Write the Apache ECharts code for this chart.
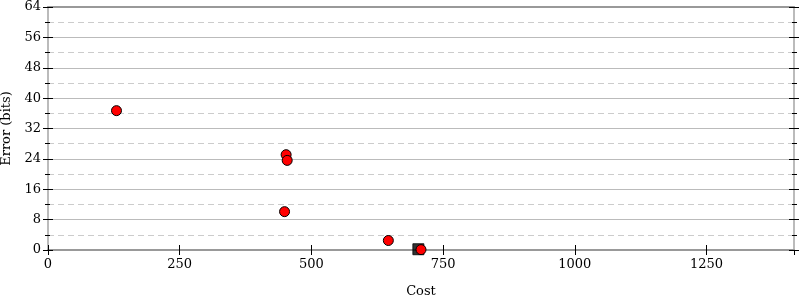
<!DOCTYPE html>
<html>
<head>
<meta charset="utf-8">
<script src="https://cdn.jsdelivr.net/npm/echarts@6/dist/echarts.min.js"></script>
<style>html,body{margin:0;padding:0;background:#fff}#c{width:800px;height:300px}</style>
</head>
<body>
<div id="c"></div>
<script>
var redCost = [130, 452, 454, 449, 646, 708];
var redError = [36.7, 25.1, 23.6, 10.1, 2.5, 0.1];
var squareCost = [703];
var squareError = [0.2];
var xMin = 0, xMax = 1416, xStep = 250;
var yMin = 0, yMax = 64, yStep = 8;

var font = 'DejaVu Serif';
function pairs(xs, ys){ return xs.map(function(x,i){return [x, ys[i]];}); }
function plain(v){ return String(v); }

var chart = echarts.init(document.getElementById('c'));
var tickStyle = {color:'#000', width:1};
chart.setOption({
  animation:false,
  textStyle:{fontFamily:font},
  grid:{left:48, right:6, top:7, bottom:50, containLabel:false, outerBoundsMode:'none'},
  xAxis:[
    {type:'value', position:'bottom', min:xMin, max:xMax, interval:xStep,
     name:'Cost', nameLocation:'middle', nameGap:35,
     nameTextStyle:{fontFamily:font, fontSize:13, color:'#000'},
     axisLine:{show:true, onZero:false, lineStyle:{color:'#999', width:2}},
     axisTick:{show:true, inside:true, length:5, lineStyle:tickStyle},
     axisLabel:{show:true, margin:8, fontFamily:font, fontSize:13, color:'#000', showMaxLabel:false, formatter:plain},
     splitLine:{show:false}},
    {type:'value', position:'bottom', min:xMin, max:xMax, interval:xStep,
     axisLine:{show:false, onZero:false},
     axisTick:{show:true, inside:false, length:5, lineStyle:tickStyle},
     axisLabel:{show:false}, splitLine:{show:false}},
    {type:'value', position:'top', min:xMin, max:xMax, interval:xStep,
     axisLine:{show:true, onZero:false, lineStyle:{color:'#999', width:2}},
     axisTick:{show:false}, axisLabel:{show:false}, splitLine:{show:false}}
  ],
  yAxis:[
    {type:'value', position:'left', min:yMin, max:yMax, interval:yStep,
     name:'Error (bits)', nameLocation:'middle', nameGap:27,
     nameTextStyle:{fontFamily:font, fontSize:13, color:'#000'},
     axisLine:{show:true, onZero:false, lineStyle:{color:'#bbb', width:2}},
     axisTick:{show:true, inside:false, length:5, lineStyle:tickStyle},
     minorTick:{show:true, splitNumber:2, length:3, lineStyle:{color:'#000', width:1}},
     axisLabel:{show:true, margin:7, fontFamily:font, fontSize:13, color:'#000', formatter:plain},
     splitLine:{show:true, lineStyle:{color:'#bbb', width:1}},
     minorSplitLine:{show:true, lineStyle:{color:'#ccc', width:1, type:[6,4]}}},
    {type:'value', position:'left', min:yMin, max:yMax, interval:yStep,
     axisLine:{show:false, onZero:false},
     axisTick:{show:true, inside:true, length:5, lineStyle:tickStyle},
     minorTick:{show:true, splitNumber:2, length:2, lineStyle:{color:'#000', width:1}},
     axisLabel:{show:false}, splitLine:{show:false}},
    {type:'value', position:'right', min:yMin, max:yMax, interval:yStep,
     axisLine:{show:true, onZero:false, lineStyle:{color:'#bbb', width:2}},
     axisTick:{show:true, inside:false, length:5, lineStyle:tickStyle},
     minorTick:{show:true, splitNumber:2, length:3, lineStyle:{color:'#000', width:1}},
     axisLabel:{show:false}, splitLine:{show:false}},
    {type:'value', position:'right', min:yMin, max:yMax, interval:yStep,
     axisLine:{show:false, onZero:false},
     axisTick:{show:true, inside:true, length:5, lineStyle:tickStyle},
     minorTick:{show:true, splitNumber:2, length:2, lineStyle:{color:'#000', width:1}},
     axisLabel:{show:false}, splitLine:{show:false}}
  ],
  series:[
    {type:'scatter', xAxisIndex:0, yAxisIndex:0, symbol:'rect', symbolSize:11, clip:false, z:2,
     itemStyle:{color:'#000', borderColor:'#000', borderWidth:1},
     data:pairs(squareCost, squareError)},
    {type:'scatter', xAxisIndex:0, yAxisIndex:0, symbol:'circle', symbolSize:10, clip:false, z:3,
     itemStyle:{color:'#ff0000', borderColor:'#000', borderWidth:1, opacity:1},
     data:pairs(redCost, redError)}
  ]
});
</script>
</body>
</html>
